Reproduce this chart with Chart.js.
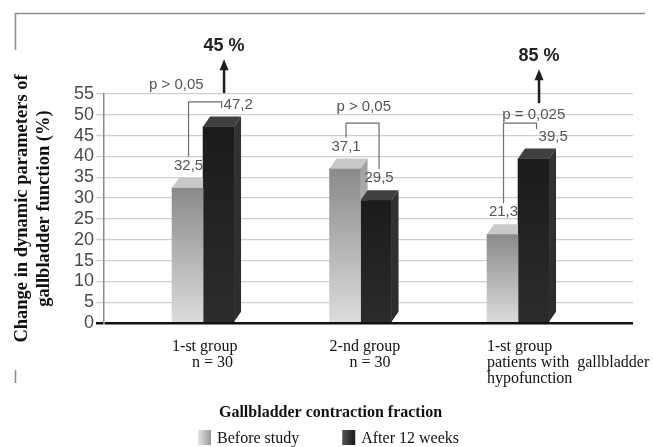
<!DOCTYPE html>
<html>
<head>
<meta charset="utf-8">
<script src="https://cdn.jsdelivr.net/npm/chart.js@4.4.1/dist/chart.umd.min.js"></script>
<style>
  html, body { margin: 0; padding: 0; background: #fff; }
  #wrap { width: 653px; height: 447px; position: relative; }
</style>
</head>
<body>
<div id="wrap"><canvas id="mycanvas"></canvas></div>
<script>
// data
var groups = [
  ['1-st group', '     n = 30'],
  ['2-nd group', '     n = 30'],
  ['1-st group', 'patients with  gallbladder', 'hypofunction']
];
var seriesNames = ['Before study', 'After 12 weeks'];
var beforeStudy = [32.5, 37.1, 21.3];
var after12Weeks = [47.2, 29.5, 39.5];
var pValues = ['p > 0,05', 'p > 0,05', 'p = 0,025'];
var gains = ['45 %', '', '85 %'];
var yMin = 0, yMax = 55, yStep = 5;
var yTitle = ['Change in dynamic parameters of', 'gallbladder function (%)'];
var xTitle = 'Gallbladder contraction fraction';

// where the notes sit, in axis units (x: shift from group, y: value)
var pTextAt = [[-0.17, 57.1], [0.02, 51.9], [0.1, 50.0]];
var bracketAt = [53.1, 48.0, 48.0];
var arrowFrom = [55.2, null, 52.8];

var SANS = "'Liberation Sans', Arial, sans-serif";
var SERIF = "'Liberation Serif', 'Times New Roman', serif";
var DX = 7, DY = 10;

function points(values) {
  return values.map(function(v, i){ return {x: i, y: v}; });
}

function frontFill(top, bottom) {
  return function(c) {
    var chart = c.chart;
    if (!chart.chartArea || !c.raw || c.raw.y === undefined) return bottom;
    var y0 = chart.scales.y.getPixelForValue(c.raw.y);
    var y1 = chart.scales.y.getPixelForValue(0);
    var g = chart.ctx.createLinearGradient(0, y0, 0, y1);
    g.addColorStop(0, top);
    g.addColorStop(1, bottom);
    return g;
  };
}

function poly(ctx, pts, fill) {
  ctx.beginPath();
  ctx.moveTo(pts[0][0], pts[0][1]);
  for (var i = 1; i < pts.length; i++) ctx.lineTo(pts[i][0], pts[i][1]);
  ctx.closePath();
  ctx.fillStyle = fill;
  ctx.fill();
}

function faces(ctx, bar, topCol, sideTop, sideBottom) {
  var l = bar.x - bar.width / 2, r = bar.x + bar.width / 2;
  poly(ctx, [[l, bar.y], [r, bar.y], [r + DX, bar.y - DY], [l + DX, bar.y - DY]], topCol);
  var g = ctx.createLinearGradient(0, bar.y, 0, bar.base);
  g.addColorStop(0, sideTop);
  g.addColorStop(1, sideBottom);
  poly(ctx, [[r, bar.y], [r + DX, bar.y - DY], [r + DX, bar.base - DY], [r, bar.base]], g);
}

function txt(ctx, s, x, y, font, color, align, base) {
  ctx.font = font;
  ctx.fillStyle = color;
  ctx.textAlign = align || 'center';
  ctx.textBaseline = base || 'middle';
  ctx.fillText(s, x, y);
}

function fmt(v) { return v.toFixed(1).replace('.', ','); }

var bars3d = {
  id: 'bars3d',
  afterDatasetsDraw: function(chart) {
    var ctx = chart.ctx;
    var L = chart.getDatasetMeta(0).data, D = chart.getDatasetMeta(1).data;
    var ys = chart.scales.y, xs = chart.scales.x;
    for (var i = 0; i < L.length; i++) {
      var a = L[i], b = D[i];
      // light bar faces, hidden where the dark front covers them
      ctx.save();
      ctx.beginPath();
      ctx.rect(0, 0, chart.width, chart.height);
      ctx.rect(b.x - b.width / 2, b.y, b.width, b.base - b.y);
      ctx.clip('evenodd');
      faces(ctx, a, '#c9c9c9', '#a2a2a2', '#d6d6d6');
      ctx.restore();
      faces(ctx, b, '#404040', '#333333', '#2c2c2c');

      // value labels and p bracket
      var by = ys.getPixelForValue(bracketAt[i]);
      var lx = a.x + 1, rx = b.x + 3;
      var ly = a.y - DY - 12, ry = b.y - DY - 12;
      var lBot = Math.max(ly - 9, by + 6), rBot = ry - 9, beside = false;
      if (rBot < by + 6) { rBot = by + 6; beside = true; }
      ctx.strokeStyle = '#6e6e6e';
      ctx.lineWidth = 1.2;
      ctx.beginPath();
      ctx.moveTo(lx, lBot); ctx.lineTo(lx, by); ctx.lineTo(rx, by); ctx.lineTo(rx, rBot);
      ctx.stroke();
      txt(ctx, fmt(beforeStudy[i]), lx, ly, '15px ' + SANS, '#555');
      if (beside) txt(ctx, fmt(after12Weeks[i]), rx + 2, ry, '15px ' + SANS, '#555', 'left');
      else txt(ctx, fmt(after12Weeks[i]), rx, ry, '15px ' + SANS, '#555');
      txt(ctx, pValues[i], xs.getPixelForValue(i + pTextAt[i][0]), ys.getPixelForValue(pTextAt[i][1]), '15px ' + SANS, '#555');

      // arrow with the gain
      if (gains[i]) {
        var ax = b.x + DX / 2 + 2;
        var ab = ys.getPixelForValue(arrowFrom[i]), at = ab - 34;
        ctx.strokeStyle = '#1e1e1e';
        ctx.lineWidth = 2.5;
        ctx.beginPath(); ctx.moveTo(ax, ab); ctx.lineTo(ax, at + 8); ctx.stroke();
        poly(ctx, [[ax, at], [ax - 4.5, at + 11], [ax + 4.5, at + 11]], '#1e1e1e');
        txt(ctx, gains[i], ax, at - 8, 'bold 18px ' + SANS, '#222', 'center', 'alphabetic');
      }
    }
  },
  afterDraw: function(chart) {
    var ctx = chart.ctx, xs = chart.scales.x;
    // group labels
    for (var i = 0; i < groups.length; i++) {
      var left = xs.getPixelForValue(i) - 31;
      for (var k = 0; k < groups[i].length; k++) {
        txt(ctx, groups[i][k], left, 351 + k * 16, '16px ' + SERIF, '#111', 'left', 'alphabetic');
      }
    }
    var cx = chart.width / 2;
    txt(ctx, xTitle, cx + 4, 417, 'bold 16px ' + SERIF, '#111', 'center', 'alphabetic');

    // legend
    ctx.font = '16px ' + SERIF;
    var w0 = ctx.measureText(seriesNames[0]).width, w1 = ctx.measureText(seriesNames[1]).width;
    var total = 13 + 6 + w0 + 43 + 13 + 6 + w1;
    var x0 = cx - total / 2 + 2;
    var g1 = ctx.createLinearGradient(x0, 0, x0 + 13, 0);
    g1.addColorStop(0, '#e4e4e4'); g1.addColorStop(1, '#999');
    ctx.fillStyle = g1; ctx.fillRect(x0, 430, 13, 15);
    txt(ctx, seriesNames[0], x0 + 19, 443, '16px ' + SERIF, '#111', 'left', 'alphabetic');
    var x1 = x0 + 19 + w0 + 43;
    var g2 = ctx.createLinearGradient(x1, 0, x1 + 13, 0);
    g2.addColorStop(0, '#555'); g2.addColorStop(1, '#1a1a1a');
    ctx.fillStyle = g2; ctx.fillRect(x1, 430, 13, 15);
    txt(ctx, seriesNames[1], x1 + 19, 443, '16px ' + SERIF, '#111', 'left', 'alphabetic');

    // frame remnants of the scanned figure
    ctx.strokeStyle = '#8c8c8c';
    ctx.lineWidth = 1.5;
    ctx.beginPath();
    ctx.moveTo(645, 13.5); ctx.lineTo(15.5, 13.5); ctx.lineTo(15.5, 50);
    ctx.moveTo(15.5, 370); ctx.lineTo(15.5, 383);
    ctx.stroke();
  }
};

var ctx = document.getElementById('mycanvas');
var barGraph = new Chart(ctx, {
  type: 'bar',
  data: {
    datasets: [
      {
        label: seriesNames[0],
        data: points(beforeStudy),
        backgroundColor: frontFill('#8a8a8a', '#dcdcdc')
      },
      {
        label: seriesNames[1],
        data: points(after12Weeks),
        backgroundColor: frontFill('#1b1b1b', '#2c2c2c')
      }
    ]
  },
  plugins: [bars3d],
  options: {
    responsive: true,
    maintainAspectRatio: false,
    animation: false,
    events: [],
    barThickness: 31,
    layout: { padding: { top: 94, right: 20, bottom: 0, left: 0 } },
    plugins: { legend: { display: false }, tooltip: { enabled: false } },
    scales: {
      x: {
        type: 'linear',
        min: -0.629,
        max: 2.73,
        offset: false,
        grid: { display: false },
        border: { display: false },
        ticks: { display: false },
        afterFit: function(s) { s.height = 124; }
      },
      y: {
        min: yMin,
        max: yMax,
        ticks: {
          stepSize: yStep,
          autoSkip: false,
          padding: 2,
          color: '#4a4a4a',
          font: { family: SANS, size: 18 }
        },
        grid: {
          tickLength: 8,
          color: function(c) { return c.tick && c.tick.value === 0 ? '#111' : '#cfcfcf'; },
          lineWidth: function(c) { return c.tick && c.tick.value === 0 ? 2.5 : 1.3; }
        },
        border: { display: true, color: '#8a8a8a', width: 1.5 },
        title: {
          display: true,
          text: yTitle,
          color: '#111',
          font: { family: SERIF, size: 18.5, weight: 'bold', lineHeight: 1.2 },
          padding: { top: 11, bottom: 0 }
        },
        afterFit: function(s) { s.width = 104; }
      }
    }
  }
});
</script>
</body>
</html>
